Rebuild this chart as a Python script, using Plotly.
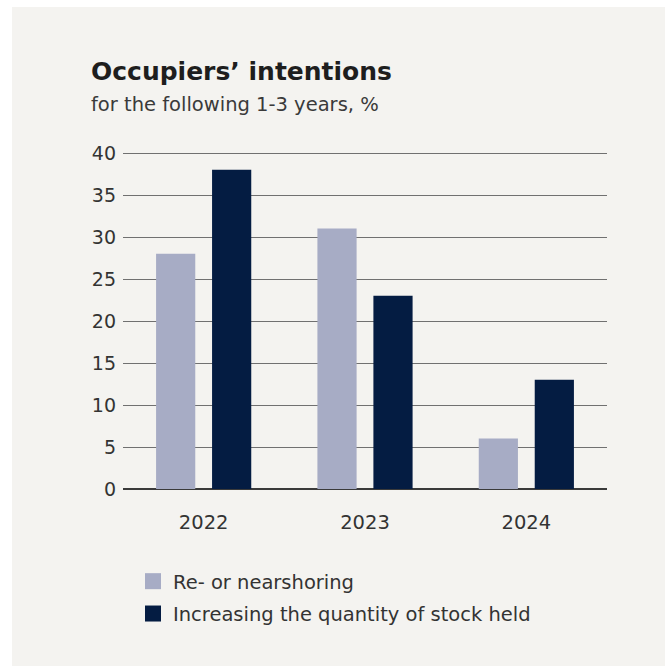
import plotly.graph_objects as go

years = ["2022", "2023", "2024"]
reshoring = [28, 31, 6]
stock = [38, 23, 13]
series_names = ["Re- or nearshoring", "Increasing the quantity of stock held"]
colors = ["#a7acc5", "#041c42"]
y_ticks = [0, 5, 10, 15, 20, 25, 30, 35, 40]

W, H = 665, 666
L, R, T, B = 123, 58, 152, 177
pw, ph = W - L - R, H - T - B

def px_x(x):
    return (x - L) / pw

def px_y(y):
    return (H - B - y) / ph

BG = "#f4f3f0"
FONT = "DejaVu Sans"

fig = go.Figure()
for vals, name, c in zip([reshoring, stock], series_names, colors):
    fig.add_trace(go.Bar(x=years, y=vals, name=name, marker=dict(color=c, line=dict(width=0)),
                         showlegend=False))
for i, (name, c) in enumerate(zip(series_names, colors)):
    fig.add_trace(go.Scatter(x=[None], y=[None], mode="markers", name=name,
                             marker=dict(symbol="square", size=16, color=c),
                             legendgroup=f"g{i}"))

fig.add_shape(type="rect", xref="paper", yref="paper",
              x0=px_x(12), x1=px_x(W + 5), y0=px_y(7), y1=px_y(H + 5),
              fillcolor=BG, line=dict(width=0), layer="below")

fig.add_annotation(text="<b>Occupiers’ intentions</b>", xref="paper", yref="paper",
                   x=px_x(89), y=px_y(88), xanchor="left", yanchor="bottom", showarrow=False,
                   font=dict(family=FONT, size=25, color="#1e1e1e"))
fig.add_annotation(text="for the following 1-3 years, %", xref="paper", yref="paper",
                   x=px_x(89), y=px_y(118), xanchor="left", yanchor="bottom", showarrow=False,
                   font=dict(family=FONT, size=19.5, color="#3a3a3a"))

fig.update_layout(
    width=W, height=H,
    margin=dict(l=L, r=R, t=T, b=B),
    paper_bgcolor="white", plot_bgcolor=BG,
    barmode="group", bargap=0.306, bargroupgap=0.30,
    font=dict(family=FONT, color="#333333", size=19),
    legend=dict(x=px_x(133), y=px_y(562), xanchor="left", yanchor="top",
                bgcolor="rgba(0,0,0,0)", font=dict(size=19.5, color="#333333"),
                tracegroupgap=4, itemclick=False),
    xaxis=dict(showgrid=False, ticks="", ticklabelstandoff=19, showline=False,
               tickfont=dict(size=19.5)),
    yaxis=dict(range=[0, 40.12], tickvals=y_ticks, showgrid=True, gridcolor="#707070",
               gridwidth=1, zeroline=True, zerolinecolor="#3a3a3a", zerolinewidth=2,
               ticks="", ticklabelstandoff=6, tickfont=dict(size=19)),
)

fig.write_html("out.html")
